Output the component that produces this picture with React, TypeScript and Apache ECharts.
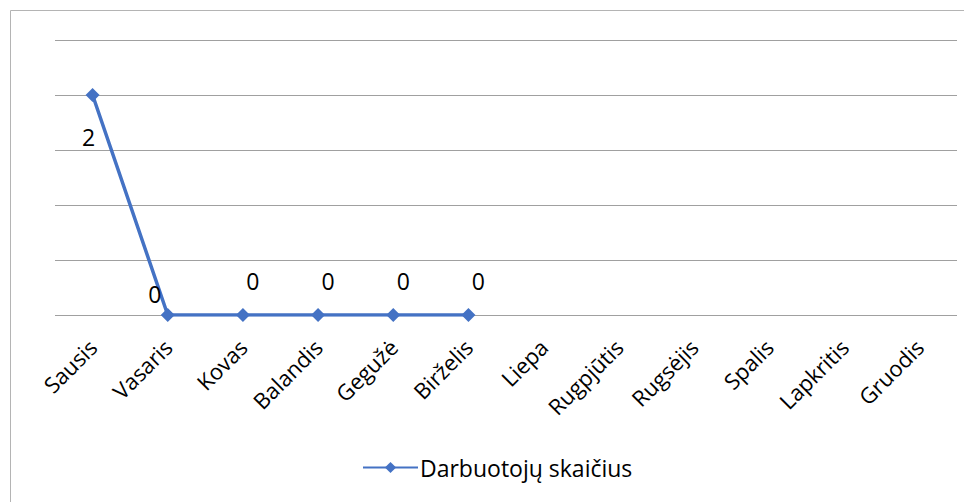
import React, { useEffect, useRef } from "react";
import * as echarts from "echarts";

const categories = ["Sausis", "Vasaris", "Kovas", "Balandis", "Gegužė", "Birželis", "Liepa", "Rugpjūtis", "Rugsėjis", "Spalis", "Lapkritis", "Gruodis"];
const values: (number | null)[] = [2, 0, 0, 0, 0, 0, null, null, null, null, null, null];
const seriesName = "Darbuotojų skaičius";

const FONT = "'Open Sans', 'Noto Sans', sans-serif";

export default function App() {
  const ref = useRef<HTMLDivElement>(null);
  useEffect(() => {
    if (!ref.current) return;
    const chart = echarts.init(ref.current, null, { renderer: "svg" });
    const labelFor = (i: number) => {
      if (i === 0) return { position: "bottom", offset: [-4, 18] };
      if (i === 1) return { position: "top", offset: [-13, 2] };
      return { position: "top", offset: [10, -11] };
    };
    const data = values.map((v, i) =>
      v === null ? "-" : { value: v, label: { show: true, ...labelFor(i) } }
    );
    chart.setOption({
      animation: false,
      backgroundColor: "#ffffff",
      textStyle: { fontFamily: FONT },
      grid: { left: 55, right: 7, top: 40, bottom: 187, containLabel: false },
      graphic: [
        {
          type: "rect",
          shape: { x: 10.5, y: 10.5, width: 1000, height: 1000 },
          style: { fill: "none", stroke: "#b4b4b4", lineWidth: 1 },
          silent: true,
        },
      ],
      xAxis: {
        type: "category",
        data: categories,
        boundaryGap: true,
        axisLine: { show: false },
        axisTick: { show: false },
        axisLabel: {
          rotate: 45,
          interval: 0,
          margin: 28,
          fontSize: 22,
          color: "#000",
          fontFamily: FONT,
        },
        splitLine: { show: false },
      },
      yAxis: {
        type: "value",
        min: 0,
        max: 2.5,
        interval: 0.5,
        axisLabel: { show: false },
        axisLine: { show: false },
        axisTick: { show: false },
        splitLine: { show: true, lineStyle: { color: "#a0a0a0", width: 1 } },
      },
      legend: {
        show: true,
        bottom: 18,
        left: 357,
        itemWidth: 55,
        itemHeight: 14,
        itemGap: 10,
        textStyle: { fontSize: 23, color: "#000", fontFamily: FONT, padding: [0, 0, 0, -3] },
        data: [seriesName],
      },
      series: [
        {
          name: seriesName,
          type: "line",
          data,
          symbol: "diamond",
          symbolSize: 14,
          showAllSymbol: true,
          connectNulls: false,
          lineStyle: { color: "#4472C4", width: 3.5 },
          itemStyle: { color: "#4472C4" },
          label: { show: true, fontSize: 23, color: "#000", fontFamily: FONT },
        },
      ],
    });
    return () => chart.dispose();
  }, []);
  return (
    <div
      ref={ref}
      style={{ position: "fixed", left: 0, top: 0, width: 964, height: 502, background: "#fff" }}
    />
  );
}
